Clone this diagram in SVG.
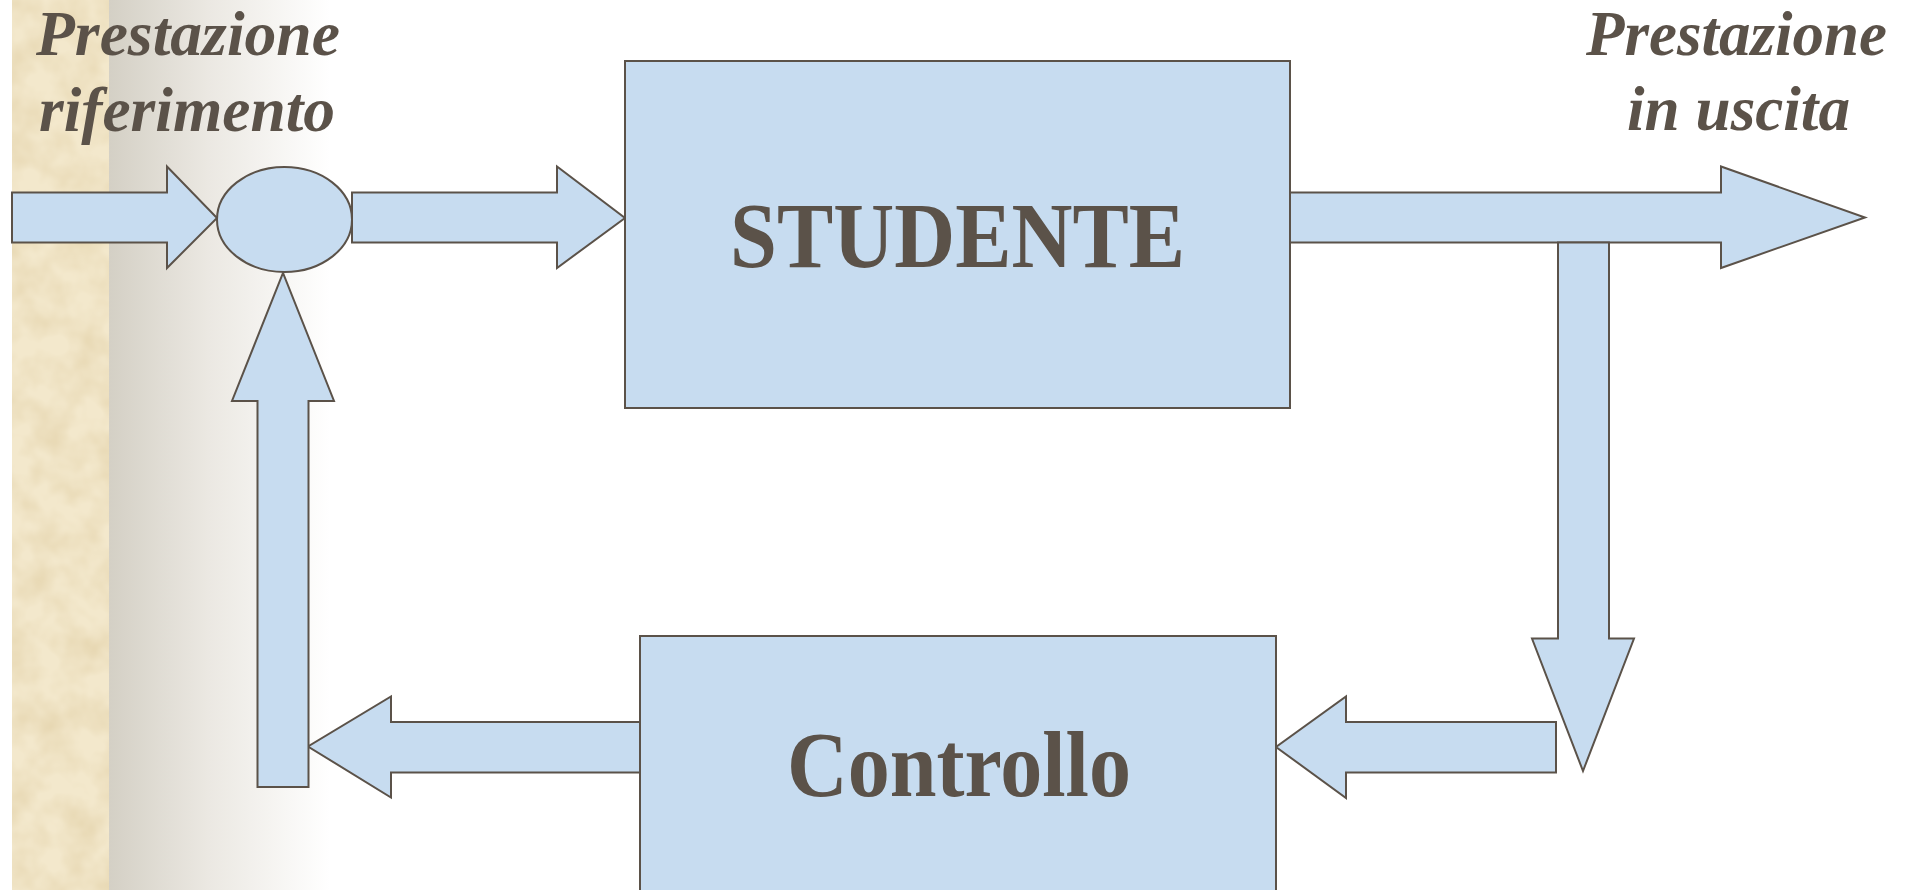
<svg xmlns="http://www.w3.org/2000/svg" width="1910" height="890" viewBox="0 0 1910 890">
<defs>
<linearGradient id="fade" x1="0" y1="0" x2="1" y2="0">
<stop offset="0" stop-color="#d4d0c5"/>
<stop offset="0.45" stop-color="#ebe8e2"/>
<stop offset="1" stop-color="#ffffff"/>
</linearGradient>
<filter id="paper" x="0" y="0" width="1" height="1" filterUnits="objectBoundingBox" color-interpolation-filters="sRGB">
<feTurbulence type="fractalNoise" baseFrequency="0.03" numOctaves="3" seed="7"/>
<feColorMatrix type="matrix" values="0 0 0 0 0.86  0 0 0 0 0.78  0 0 0 0 0.60  0.9 0 0 0 -0.3"/>
</filter>
<style>
.shape{fill:#c7dcf0;stroke:#5b5249;stroke-width:2;stroke-linejoin:miter}
.title{font-family:"Liberation Serif","Times New Roman",serif;font-weight:bold;font-style:italic;font-size:64px;fill:#5b5249}
.label{font-family:"Liberation Serif","Times New Roman",serif;font-weight:bold;font-size:94px;fill:#5b5249}
</style>
</defs>
<rect x="0" y="0" width="1910" height="890" fill="#ffffff"/>
<g id="background">
<rect x="12" y="0" width="97" height="890" fill="#f3e8cc"/>
<rect x="12" y="0" width="97" height="890" fill="#000" filter="url(#paper)"/>
<rect x="109" y="0" width="221" height="890" fill="url(#fade)"/>
</g>
<g id="titles">
<text class="title" x="36" y="55" textLength="304" lengthAdjust="spacingAndGlyphs">Prestazione</text>
<text class="title" x="39" y="131" textLength="296" lengthAdjust="spacingAndGlyphs">riferimento</text>
<text class="title" x="1586" y="55" textLength="301" lengthAdjust="spacingAndGlyphs">Prestazione</text>
<text class="title" x="1627" y="130" textLength="223" lengthAdjust="spacingAndGlyphs">in uscita</text>
</g>
<g id="connectors">
<polygon class="shape" points="12,192.5 167,192.5 167,166.5 217,218 167,268 167,242.5 12,242.5"/>
<polygon class="shape" points="352,192.5 557,192.5 557,166.5 625,218 557,268 557,242.5 352,242.5"/>
<polygon class="shape" points="1290,192.5 1721,192.5 1721,166.5 1865,217.5 1721,268 1721,242.5 1290,242.5"/>
<polygon class="shape" points="1558,242.5 1609,242.5 1609,638.5 1634,638.5 1583,771 1532,638.5 1558,638.5"/>
<polygon class="shape" points="1556,722 1346,722 1346,696.5 1276,747 1346,798 1346,772.5 1556,772.5"/>
<polygon class="shape" points="640,722 391,722 391,696.5 308,746.5 391,797.5 391,772.5 640,772.5"/>
<polygon class="shape" points="257.5,787 257.5,401 232,401 283,273 334,401 308.5,401 308.5,787"/>
</g>
<g id="sum">
<ellipse class="shape" cx="284.5" cy="219.5" rx="67.5" ry="52.5"/>
</g>
<g id="studente">
<rect class="shape" x="625" y="61" width="665" height="347"/>
<text class="label" x="730" y="267" textLength="455" lengthAdjust="spacingAndGlyphs">STUDENTE</text>
</g>
<g id="controllo">
<rect class="shape" x="640" y="636" width="636" height="270"/>
<text class="label" x="787" y="796" textLength="344" lengthAdjust="spacingAndGlyphs">Controllo</text>
</g>
</svg>
